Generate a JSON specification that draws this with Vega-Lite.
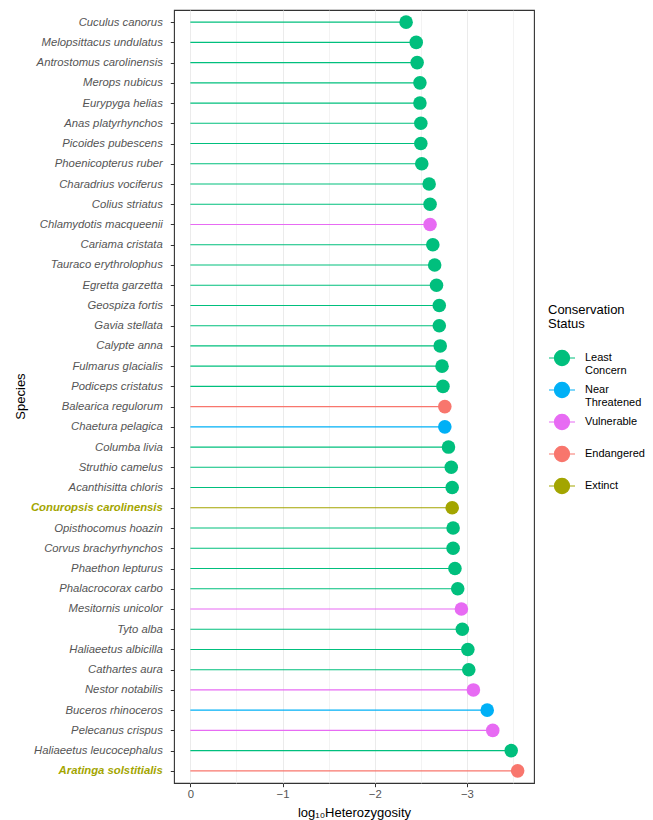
{
  "$schema": "https://vega.github.io/schema/vega-lite/v6.json",
  "width": 360,
  "height": 773,
  "autosize": {"type": "none"},
  "padding": {"left": 174, "top": 10, "right": 119, "bottom": 37},
  "background": "white",
  "config": {
    "font": "Liberation Sans",
    "view": {"stroke": "#333333", "strokeWidth": 1.1},
    "axis": {
      "domain": false,
      "gridColor": "#EBEBEB",
      "gridWidth": 1,
      "tickColor": "#333333",
      "tickSize": 3.7,
      "tickWidth": 1,
      "labelColor": "#555555",
      "labelFontSize": 11.3,
      "titleFontSize": 13,
      "titleFontWeight": "normal",
      "titleColor": "black"
    },
    "legend": {"padding": 0}
  },
  "data": {
    "values": [
      {"species": "Cuculus canorus", "het": -2.34, "status": "Least Concern"},
      {"species": "Melopsittacus undulatus", "het": -2.45, "status": "Least Concern"},
      {"species": "Antrostomus carolinensis", "het": -2.46, "status": "Least Concern"},
      {"species": "Merops nubicus", "het": -2.49, "status": "Least Concern"},
      {"species": "Eurypyga helias", "het": -2.49, "status": "Least Concern"},
      {"species": "Anas platyrhynchos", "het": -2.50, "status": "Least Concern"},
      {"species": "Picoides pubescens", "het": -2.50, "status": "Least Concern"},
      {"species": "Phoenicopterus ruber", "het": -2.51, "status": "Least Concern"},
      {"species": "Charadrius vociferus", "het": -2.59, "status": "Least Concern"},
      {"species": "Colius striatus", "het": -2.60, "status": "Least Concern"},
      {"species": "Chlamydotis macqueenii", "het": -2.60, "status": "Vulnerable"},
      {"species": "Cariama cristata", "het": -2.63, "status": "Least Concern"},
      {"species": "Tauraco erythrolophus", "het": -2.65, "status": "Least Concern"},
      {"species": "Egretta garzetta", "het": -2.67, "status": "Least Concern"},
      {"species": "Geospiza fortis", "het": -2.70, "status": "Least Concern"},
      {"species": "Gavia stellata", "het": -2.70, "status": "Least Concern"},
      {"species": "Calypte anna", "het": -2.71, "status": "Least Concern"},
      {"species": "Fulmarus glacialis", "het": -2.73, "status": "Least Concern"},
      {"species": "Podiceps cristatus", "het": -2.74, "status": "Least Concern"},
      {"species": "Balearica regulorum", "het": -2.76, "status": "Endangered"},
      {"species": "Chaetura pelagica", "het": -2.76, "status": "Near Threatened"},
      {"species": "Columba livia", "het": -2.80, "status": "Least Concern"},
      {"species": "Struthio camelus", "het": -2.83, "status": "Least Concern"},
      {"species": "Acanthisitta chloris", "het": -2.84, "status": "Least Concern"},
      {"species": "Conuropsis carolinensis", "het": -2.84, "status": "Extinct"},
      {"species": "Opisthocomus hoazin", "het": -2.85, "status": "Least Concern"},
      {"species": "Corvus brachyrhynchos", "het": -2.85, "status": "Least Concern"},
      {"species": "Phaethon lepturus", "het": -2.87, "status": "Least Concern"},
      {"species": "Phalacrocorax carbo", "het": -2.90, "status": "Least Concern"},
      {"species": "Mesitornis unicolor", "het": -2.94, "status": "Vulnerable"},
      {"species": "Tyto alba", "het": -2.95, "status": "Least Concern"},
      {"species": "Haliaeetus albicilla", "het": -3.01, "status": "Least Concern"},
      {"species": "Cathartes aura", "het": -3.02, "status": "Least Concern"},
      {"species": "Nestor notabilis", "het": -3.07, "status": "Vulnerable"},
      {"species": "Buceros rhinoceros", "het": -3.22, "status": "Near Threatened"},
      {"species": "Pelecanus crispus", "het": -3.28, "status": "Vulnerable"},
      {"species": "Haliaeetus leucocephalus", "het": -3.48, "status": "Least Concern"},
      {"species": "Aratinga solstitialis", "het": -3.55, "status": "Endangered"}
    ]
  },
  "encoding": {
    "y": {
      "field": "species",
      "type": "nominal",
      "sort": null,
      "scale": {"type": "point", "padding": 0.6},
      "axis": {
        "title": "Species",
        "titleX": -154,
        "titleY": 386,
        "titleBaseline": "middle",
        "labelFontStyle": "italic",
        "labelPadding": 8,
        "labelColor": {"condition": {"test": "datum.value == 'Conuropsis carolinensis' || datum.value == 'Aratinga solstitialis'", "value": "#A3A500"}, "value": "#555555"},
        "labelFontWeight": {"condition": {"test": "datum.value == 'Conuropsis carolinensis' || datum.value == 'Aratinga solstitialis'", "value": "bold"}, "value": "normal"}
      }
    },
    "x": {
      "field": "het",
      "type": "quantitative",
      "scale": {"domain": [-3.7275, 0.1775], "reverse": true, "nice": false, "zero": false},
      "axis": {
        "title": "log₁₀Heterozygosity",
        "values": [0, -0.5, -1, -1.5, -2, -2.5, -3, -3.5],
        "labelExpr": "datum.value % 1 == 0 ? format(datum.value, 'd') : ''",
        "labelPadding": 2,
        "titlePadding": 6,
        "tickOpacity": {"condition": {"test": "datum.value % 1 == 0", "value": 1}, "value": 0},
        "gridWidth": {"condition": {"test": "datum.value % 1 == 0", "value": 1}, "value": 0.6}
      }
    },
    "color": {
      "field": "status",
      "type": "nominal",
      "scale": {
        "domain": ["Least Concern", "Near Threatened", "Vulnerable", "Endangered", "Extinct"],
        "range": ["#00BF7D", "#00B0F6", "#E76BF3", "#F8766D", "#A3A500"]
      },
      "legend": {
        "title": ["Conservation", "Status"],
        "orient": "none",
        "legendX": 374,
        "legendY": 294,
        "titleFontSize": 13,
        "titleFontWeight": "normal",
        "titleColor": "black",
        "titlePadding": 13,
        "titleLineHeight": 14,
        "labelFontSize": 11,
        "labelColor": "black",
        "labelOffset": 9,
        "labelLineHeight": 11.5,
        "labelExpr": "datum.label == 'Least Concern' ? ['Least', 'Concern'] : datum.label == 'Near Threatened' ? ['Near', 'Threatened'] : datum.label",
        "symbolType": "M-1,0L1,0M0.58,0A0.58,0.58,0,1,1,-0.58,0A0.58,0.58,0,1,1,0.58,0",
        "symbolSize": 676,
        "symbolStrokeWidth": 1.2,
        "symbolOpacity": 1,
        "gridAlign": "all",
        "rowPadding": 0,
        "encode": {
          "symbols": {
            "update": {
              "stroke": {"scale": "color", "field": "value"},
              "fill": {"scale": "color", "field": "value"}
            }
          }
        }
      }
    }
  },
  "layer": [
    {
      "mark": {"type": "rule", "strokeWidth": 1.1},
      "encoding": {"x2": {"datum": 0}}
    },
    {
      "mark": {"type": "point", "filled": true, "size": 184, "opacity": 1}
    }
  ]
}
